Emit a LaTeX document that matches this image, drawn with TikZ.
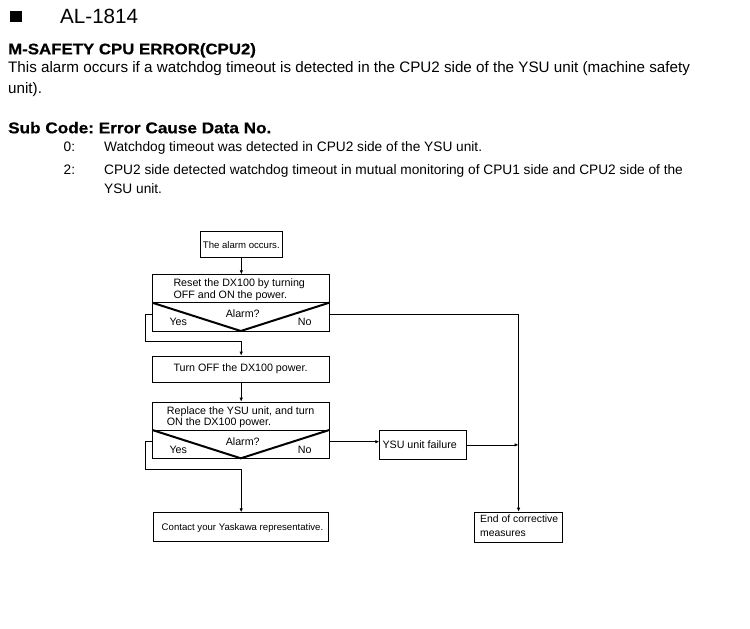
\documentclass[tikz,border=0pt]{standalone}
\usepackage{fontspec}
\setmainfont{Liberation Sans}
\newfontfamily\headfont[FakeStretch=1.10,FakeBold=0.6]{Liberation Sans}
\usetikzlibrary{arrows.meta}
\frenchspacing
\begin{document}
\begin{tikzpicture}[x=1pt,y=-1pt,
  txt/.style={inner sep=0pt, anchor=base west},
  ctxt/.style={inner sep=0pt, anchor=base},
  flow/.style={font=\fontsize{10.7}{12}\selectfont},
  flowsmall/.style={font=\fontsize{9.6}{11}\selectfont},
  box/.style={draw, line width=0.8pt, anchor=north west, inner sep=0pt},
  conn/.style={line width=0.8pt},
  arr/.style={conn, -{Latex[length=4pt,width=3.5pt]}},
  vline/.style={line width=2pt},
  body/.style={txt, font=\fontsize{15.2}{17}\selectfont},
  list/.style={txt, font=\fontsize{13.7}{15}\selectfont},
  head/.style={txt, font=\headfont\bfseries\fontsize{15.3}{17}\selectfont}
]
\useasboundingbox (0,0) rectangle (750,629);
% header
\fill (10,10.5) rectangle (21.7,22.3);
\node[txt, font=\fontsize{20.6}{22}\selectfont] (title) at (60,23.3) {AL-1814};
\node[head] (h1) at (8,54.3) {M-SAFETY CPU ERROR(CPU2)};
\node[body] (b1) at (8,72.9) {This alarm occurs if a watchdog timeout is detected in the CPU2 side of the YSU unit (machine safety};
\node[body] (b2) at (8,93.5) {unit).};
\node[head, font=\headfont\bfseries\fontsize{15.6}{17}\selectfont] (h2) at (8,133.3) {Sub Code: Error Cause Data No.};
\node[list] (n0) at (63.5,151.7) {0:};
\node[list] (t0) at (104,151.7) {Watchdog timeout was detected in CPU2 side of the YSU unit.};
\node[list] (n2) at (63.5,174) {2:};
\node[list] (t2) at (104,174) {CPU2 side detected watchdog timeout in mutual monitoring of CPU1 side and CPU2 side of the};
\node[list] (t2b) at (104,193.3) {YSU unit.};

% boxes
\node[box, minimum width=82pt, minimum height=26.3pt] (alarm) at (200,231) {};
\node[box, minimum width=177pt, minimum height=56.7pt] (reset) at (152.3,274.3) {};
\node[box, minimum width=177pt, minimum height=26pt] (turnoff) at (152.3,355.7) {};
\node[box, minimum width=177pt, minimum height=56.6pt] (replace) at (152.3,401.7) {};
\node[box, minimum width=175pt, minimum height=28.4pt] (contact) at (153.3,512.3) {};
\node[box, minimum width=86.4pt, minimum height=29pt] (ysu) at (379.3,430) {};
\node[box, minimum width=88.3pt, minimum height=30.6pt] (endbox) at (474,511.7) {};

% decision dividers
\draw[conn] (152.3,302.7) -- (329.3,302.7);
\draw[vline] (152.3,302.7) -- (240.8,331) -- (329.3,302.7);
\draw[conn] (152.3,430) -- (329.3,430);
\draw[vline] (152.3,430) -- (240.8,458.3) -- (329.3,430);

% texts in boxes
\node[txt, flowsmall] (ta) at (202.7,248.3) {The alarm occurs.};
\node[ctxt, flowsmall] (tc) at (242.5,530) {Contact your Yaskawa representative.};
\begin{scope}[flow]
\node[txt] (tr1) at (173.3,286.7) {Reset the DX100 by turning};
\node[txt] (tr2) at (173.3,298.3) {OFF and ON the power.};
\node[ctxt] (q1) at (242.7,317.7) {Alarm?};
\node[txt] (y1) at (169.3,325.7) {Yes};
\node[txt] (no1) at (297.7,325.7) {No};
\node[txt] (tt) at (173.3,371.7) {Turn OFF the DX100 power.};
\node[txt] (tp1) at (166.7,414) {Replace the YSU unit, and turn};
\node[txt] (tp2) at (166.7,425.7) {ON the DX100 power.};
\node[ctxt] (q2) at (242.7,445) {Alarm?};
\node[txt] (y2) at (169.3,453.3) {Yes};
\node[txt] (no2) at (297.7,453.3) {No};
\node[txt] (ty) at (382.3,448.3) {YSU unit failure};
\node[txt, font=\fontsize{10.4}{12}\selectfont] (te1) at (480,522.7) {End of corrective};
\node[txt, font=\fontsize{10.4}{12}\selectfont] (te2) at (480,536.7) {measures};
\end{scope}

% connectors
\coordinate (ry) at (152.3,314.3);
\coordinate (rn) at (329.3,314.3);
\coordinate (py) at (152.3,441.7);
\coordinate (pn) at (329.3,441.7);
\draw[arr] (alarm.south) -- (alarm.south |- reset.north);
\draw[arr] (ry) -| (145.3,341.7) -| (turnoff.north);
\draw[arr] (rn) -| (endbox.north);
\draw[arr] (turnoff.south) -- (replace.north);
\draw[arr] (py) -| (145.3,469.3) -| (contact.north);
\draw[arr] (pn) -- (ysu.west |- pn);
\draw[arr] (ysu.east) -- (ysu.east -| endbox.north);
\end{tikzpicture}
\end{document}
